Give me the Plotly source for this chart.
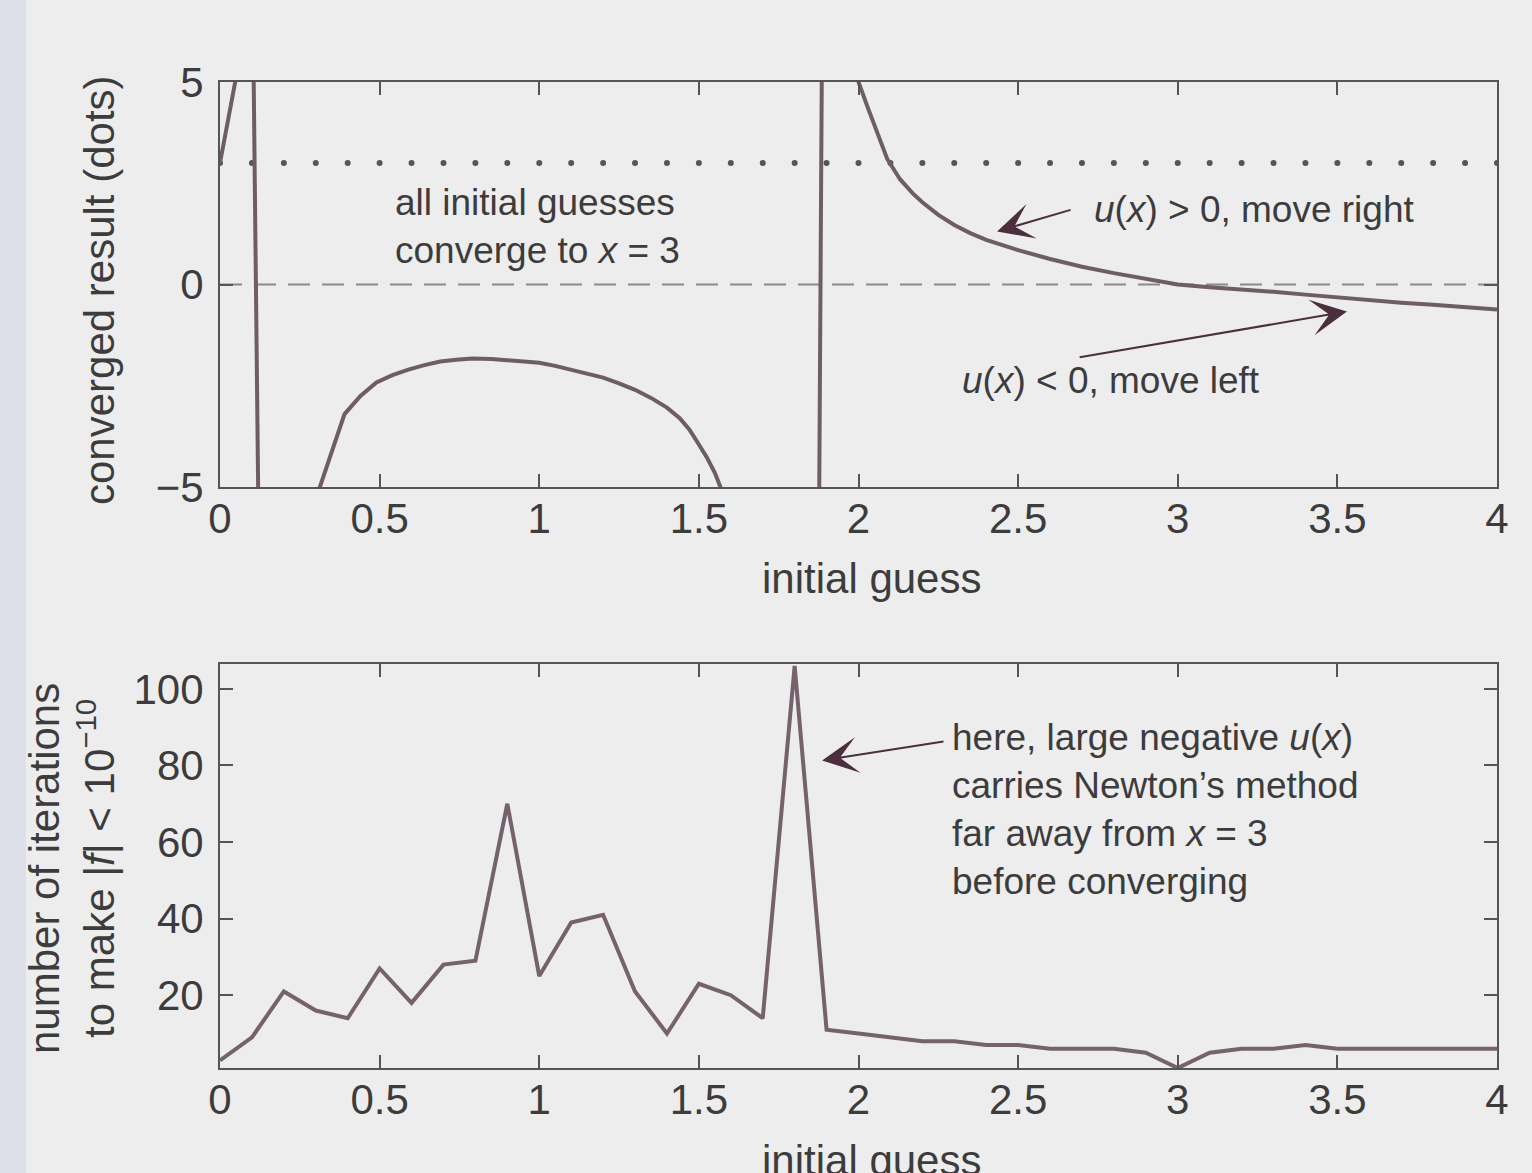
import plotly.graph_objects as go

# ---------------- data ----------------
# top panel: u(x) curve (values beyond +/-5 are clipped by the axis)
x_u = [0.0, 0.025, 0.05, 0.10, 0.125, 0.30, 0.39, 0.44, 0.49, 0.54, 0.59, 0.64,
       0.69, 0.74, 0.79, 0.85, 0.90, 0.95, 1.00, 1.05, 1.10, 1.15, 1.20, 1.25,
       1.30, 1.35, 1.40, 1.44, 1.47, 1.50, 1.525, 1.55, 1.57, 1.60, 1.874, 1.888,
       2.00, 2.03, 2.06, 2.09, 2.13, 2.17, 2.20, 2.25, 2.30, 2.35, 2.40, 2.50,
       2.60, 2.70, 2.80, 2.90, 3.00, 3.10, 3.20, 3.30, 3.40, 3.50, 3.60, 3.70,
       3.80, 3.90, 4.00]
u_vals = [3.0, 4.0, 5.1, 9.0, -9.0, -5.3, -3.2, -2.75, -2.42, -2.24, -2.1, -1.99,
          -1.9, -1.86, -1.83, -1.84, -1.87, -1.9, -1.93, -2.01, -2.1, -2.19, -2.3,
          -2.44, -2.6, -2.8, -3.04, -3.3, -3.58, -3.95, -4.27, -4.65, -5.05, -5.8,
          -9.0, 9.0,
          5.0, 4.35, 3.7, 3.1, 2.6, 2.25, 2.03, 1.72, 1.47, 1.27, 1.1, 0.85,
          0.63, 0.44, 0.28, 0.13, 0.0, -0.07, -0.12, -0.18, -0.25, -0.32, -0.39,
          -0.45, -0.50, -0.56, -0.62]

# initial guesses (grid) and converged results (dots)
x_guess = [0.0, 0.1, 0.2, 0.3, 0.4, 0.5, 0.6, 0.7, 0.8, 0.9, 1.0, 1.1, 1.2, 1.3,
           1.4, 1.5, 1.6, 1.7, 1.8, 1.9, 2.0, 2.1, 2.2, 2.3, 2.4, 2.5, 2.6, 2.7,
           2.8, 2.9, 3.0, 3.1, 3.2, 3.3, 3.4, 3.5, 3.6, 3.7, 3.8, 3.9, 4.0]
converged = [3, 3, 3, 3, 3, 3, 3, 3, 3, 3, 3, 3, 3, 3, 3, 3, 3, 3, 3, 3, 3,
             3, 3, 3, 3, 3, 3, 3, 3, 3, 3, 3, 3, 3, 3, 3, 3, 3, 3, 3, 3]
zero_line_x = [0, 4]
zero_line_y = [0, 0]

# bottom panel: number of iterations
iterations = [3, 9, 21, 16, 14, 27, 18, 28, 29, 70, 25, 39, 41, 21, 10, 23, 20,
              14, 106, 11, 10, 9, 8, 8, 7, 7, 6, 6, 6, 5, 1, 5, 6, 6, 7, 6, 6,
              6, 6, 6, 6]

x_ticks = [0, 0.5, 1, 1.5, 2, 2.5, 3, 3.5, 4]
x_ticklabels = ["0", "0.5", "1", "1.5", "2", "2.5", "3", "3.5", "4"]
y1_ticks = [-5, 0, 5]
y2_ticks = [20, 40, 60, 80, 100]

# ---------------- styling ----------------
W, H = 1532, 1173
BG = "#ededed"
CURVE = "#6e5c66"
AXC = "#555555"
TXT = "#3c3c3c"
ARROW = "#4b2f3d"
FONT = "Liberation Sans, Arial, Helvetica, sans-serif"


def px(xp):
    return xp / W


def py(yp):
    return 1 - yp / H


fig = go.Figure()

fig.add_trace(go.Scatter(x=zero_line_x, y=zero_line_y, mode="lines",
                         line=dict(color="#8a8a8a", width=2, dash="22px,12px"),
                         xaxis="x", yaxis="y", showlegend=False, hoverinfo="skip"))
fig.add_trace(go.Scatter(x=x_guess, y=converged, mode="markers",
                         marker=dict(color="#555555", size=6),
                         xaxis="x", yaxis="y", showlegend=False))
fig.add_trace(go.Scatter(x=x_u, y=u_vals, mode="lines",
                         line=dict(color=CURVE, width=4),
                         xaxis="x", yaxis="y", showlegend=False))
fig.add_trace(go.Scatter(x=x_guess, y=iterations, mode="lines",
                         line=dict(color="#76626c", width=4),
                         xaxis="x2", yaxis="y2", showlegend=False))

axis_common = dict(showline=True, linecolor=AXC, linewidth=2, mirror="ticks",
                   ticks="inside", ticklen=13, tickwidth=2, tickcolor=AXC,
                   showgrid=False, zeroline=False, automargin=False,
                   tickfont=dict(family=FONT, size=42, color=TXT))

xdom = [px(220), px(1497)]

fig.update_layout(
    width=W, height=H,
    margin=dict(l=0, r=0, t=0, b=0, pad=0),
    paper_bgcolor=BG, plot_bgcolor=BG,
    font=dict(family=FONT, color=TXT),
    xaxis=dict(domain=xdom, range=[0, 4], tickvals=x_ticks, ticktext=x_ticklabels,
               anchor="y", ticklabelstandoff=-6, **axis_common),
    yaxis=dict(domain=[py(487), py(82)], range=[-5, 5], tickvals=y1_ticks,
               anchor="x", ticklabelstandoff=6, **axis_common),
    xaxis2=dict(domain=xdom, range=[0, 4], tickvals=x_ticks, ticktext=x_ticklabels,
                anchor="y2", ticklabelstandoff=-6, **axis_common),
    yaxis2=dict(domain=[py(1068), py(664)], range=[1, 106.5], tickvals=y2_ticks,
                anchor="x2", ticklabelstandoff=6, **axis_common),
)

ann = []
# axis titles
ann.append(dict(text="converged result (dots)", x=px(100), y=py(290), xref="paper",
                yref="paper", textangle=-90, showarrow=False,
                xanchor="center", yanchor="middle",
                font=dict(size=42, color=TXT, family=FONT)))
ann.append(dict(text="initial guess", x=px(871), y=py(578), xref="paper", yref="paper",
                showarrow=False, xanchor="center", yanchor="middle",
                font=dict(size=42, color=TXT, family=FONT)))
ann.append(dict(text="number of iterations<br>to make |<i>f</i>| &lt; 10<sup>\u221210</sup>",
                x=px(72), y=py(869), xref="paper", yref="paper", textangle=-90,
                showarrow=False, xanchor="center", yanchor="middle",
                font=dict(size=42, color=TXT, family=FONT)))
ann.append(dict(text="initial guess", x=px(871), y=py(1160), xref="paper", yref="paper",
                showarrow=False, xanchor="center", yanchor="middle",
                font=dict(size=42, color=TXT, family=FONT)))

# text annotations in top panel
ann.append(dict(text="all initial guesses<br>converge to <i>x</i> = 3", x=0.996, y=1.43,
                xref="x", yref="y", showarrow=False, align="left",
                font=dict(size=37, color=TXT, family=FONT)))
ann.append(dict(text="<i>u</i>(<i>x</i>) &gt; 0, move right", x=2.731, y=1.85,
                xref="x", yref="y", xanchor="left", showarrow=False,
                font=dict(size=37, color=TXT, family=FONT)))
ann.append(dict(text="<i>u</i>(<i>x</i>) &lt; 0, move left", x=2.318, y=-2.37,
                xref="x", yref="y", xanchor="left", showarrow=False,
                font=dict(size=37, color=TXT, family=FONT)))
# arrows top panel
ann.append(dict(text="", x=2.434, y=1.31, ax=2.669, ay=1.854, xref="x", yref="y",
                axref="x", ayref="y", showarrow=True, arrowhead=3, arrowsize=3,
                arrowwidth=2, arrowcolor=ARROW))
ann.append(dict(text="", x=3.53, y=-0.667, ax=2.688, ay=-1.805, xref="x", yref="y",
                axref="x", ayref="y", showarrow=True, arrowhead=3, arrowsize=3,
                arrowwidth=2, arrowcolor=ARROW))

# bottom panel annotation
ann.append(dict(text="here, large negative <i>u</i>(<i>x</i>)<br>carries Newton\u2019s method<br>"
                     "far away from <i>x</i> = 3<br>before converging",
                x=2.287, y=68.6, xref="x2", yref="y2", xanchor="left", align="left",
                showarrow=False, font=dict(size=37, color=TXT, family=FONT)))
ann.append(dict(text="", x=1.886, y=81.3, ax=2.271, ay=86.3, xref="x2", yref="y2",
                axref="x2", ayref="y2", showarrow=True, arrowhead=3, arrowsize=3,
                arrowwidth=2, arrowcolor=ARROW))

fig.update_layout(annotations=ann)

# faint scan tint along the left edge
fig.add_shape(type="rect", xref="paper", yref="paper", x0=0, x1=px(26), y0=0, y1=1,
              fillcolor="rgba(205,208,228,0.45)", line=dict(width=0), layer="below")

fig.write_html("out.html")
